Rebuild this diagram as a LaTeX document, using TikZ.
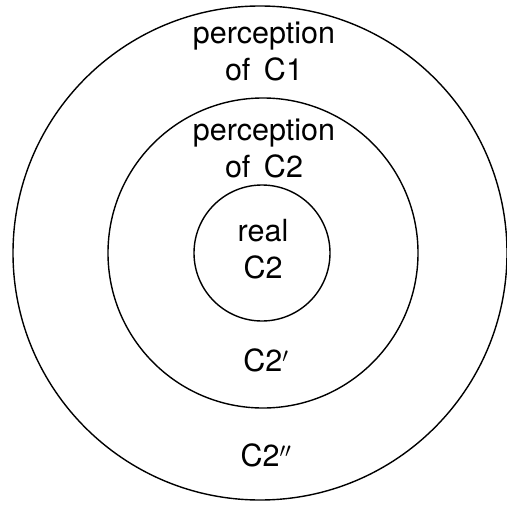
\documentclass[tikz,border=0pt]{standalone}
\usepackage{fontspec}
\setmainfont{TeX Gyre Heros}
\usepackage{tikz}
\usetikzlibrary{positioning}

\begin{document}
\begin{tikzpicture}[
  x=1pt, y=-1pt,
  font=\fontsize{30.5}{37}\selectfont,
  ring/.style={draw, circle, line width=1.4pt, inner sep=0pt},
  lbl/.style={align=center, inner sep=0pt},
]
\useasboundingbox (0,0) rectangle (506,508);

\node[ring, minimum size=494pt] (outer) at (260,253) {};
\node[ring, minimum size=310pt] (middle) at (263,253) {};
\node[ring, minimum size=136pt] (inner) at (262,253) {};

\node[lbl] (pc1)  at (264,51)  {perception\\of\, C1};
\node[lbl] (pc2)  at (264,148) {perception\\of\, C2};
\node[lbl] (real) at (263,249) {real\\C2};
\node[lbl] (c2p)  at (266,360) {C2$'$};
\node[lbl] (c2pp) at (266,455) {C2$''$};
\end{tikzpicture}
\end{document}
